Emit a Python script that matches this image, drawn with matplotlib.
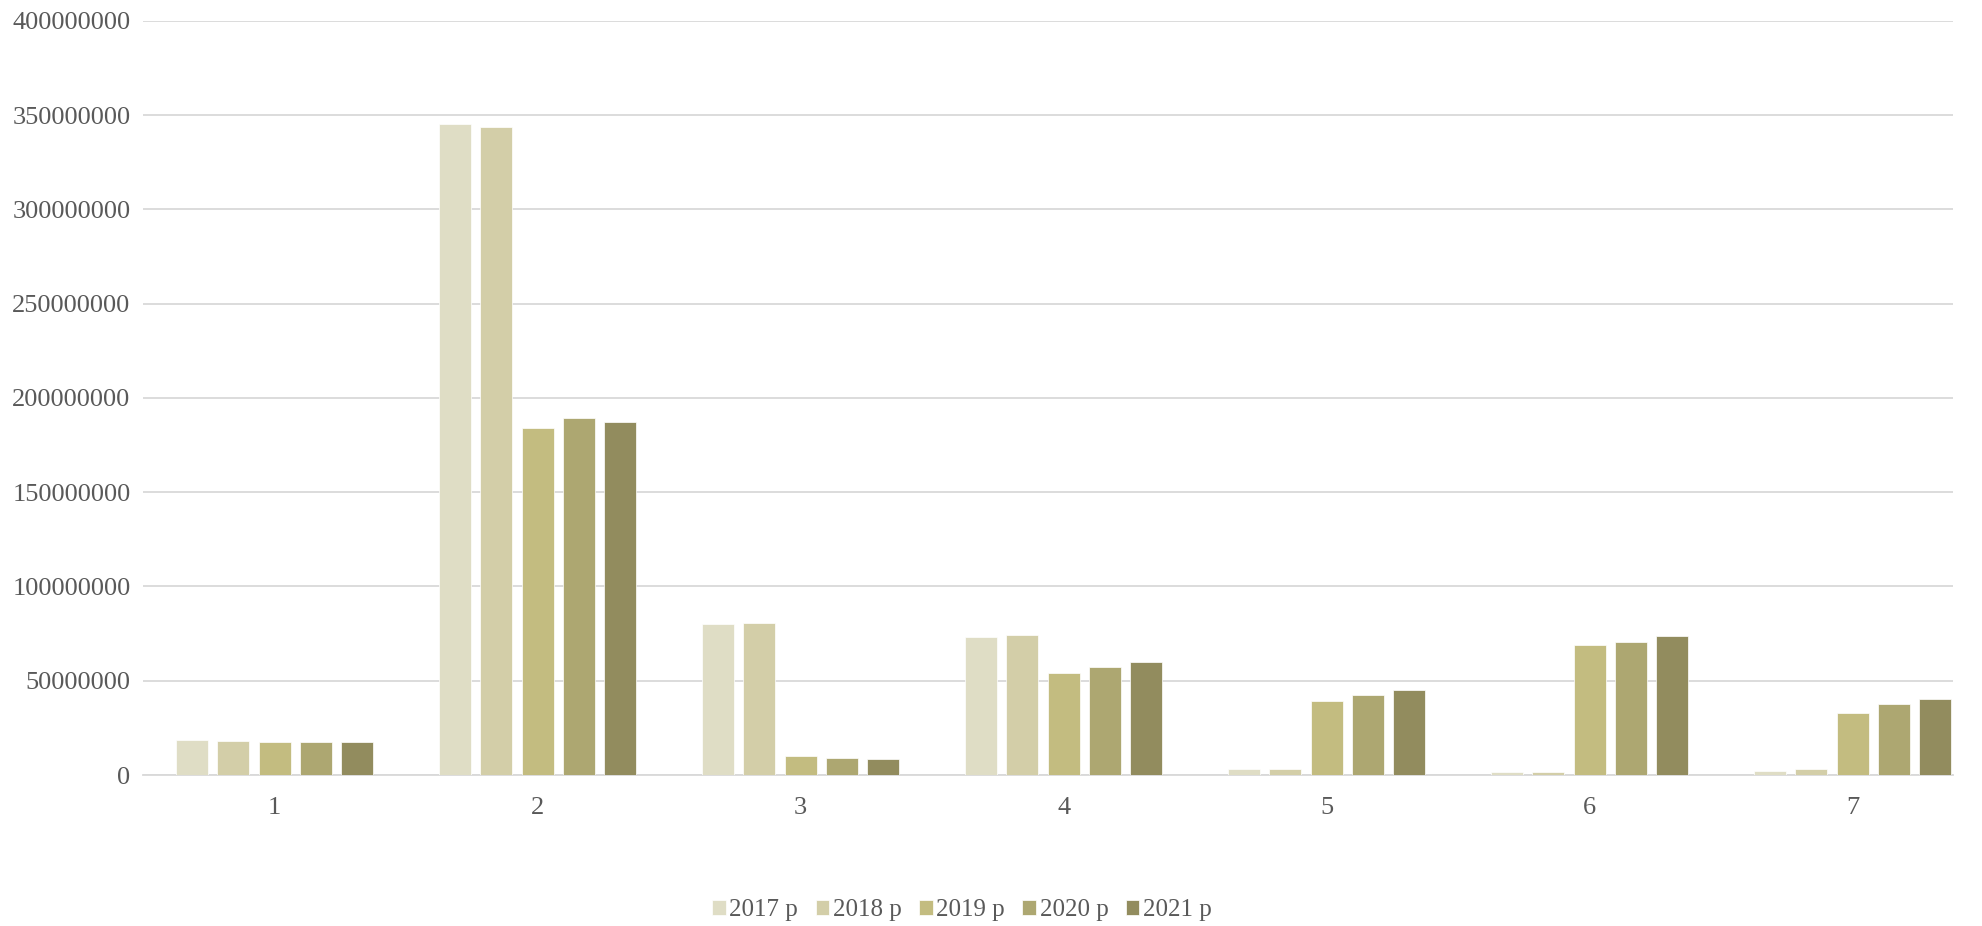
import matplotlib
matplotlib.use("Agg")
import matplotlib.pyplot as plt
import numpy as np

categories = ["1", "2", "3", "4", "5", "6", "7"]
series_names = ["2017 p", "2018 p", "2019 p", "2020 p", "2021 p"]
v2017 = [18.4e6, 345.2e6, 80.0e6, 73.3e6, 3.2e6, 1.4e6, 2.1e6]
v2018 = [18.2e6, 343.5e6, 80.9e6, 74.2e6, 3.2e6, 1.7e6, 3.2e6]
v2019 = [17.3e6, 183.9e6, 9.9e6, 54.2e6, 39.5e6, 68.9e6, 32.7e6]
v2020 = [17.3e6, 189.4e6, 9.0e6, 57.3e6, 42.7e6, 70.7e6, 37.7e6]
v2021 = [17.5e6, 187.1e6, 8.5e6, 60.0e6, 45.2e6, 73.9e6, 40.2e6]
colors = ["#DFDDC5", "#D3CEA8", "#C3BC80", "#ADA771", "#928C5E"]

plt.rcParams['font.family'] = ['Liberation Serif', 'DejaVu Serif']

fig = plt.figure(figsize=(19.82, 9.26), dpi=100)
ax = fig.add_axes([0.0722, 0.163, 0.913, 0.8146])

x = np.arange(len(categories))
step = 0.157
width = 0.122
all_vals = [v2017, v2018, v2019, v2020, v2021]
for i, (vals, name, c) in enumerate(zip(all_vals, series_names, colors)):
    ax.bar(x + (i - 2) * step, vals, width=width, color=c, label=name,
           edgecolor='white', linewidth=0.5, zorder=3)

ax.set_xlim(-0.5, 6.38)
ax.set_ylim(0, 400e6)
ax.set_yticks(np.arange(0, 400e6 + 1, 50e6))
ax.set_yticklabels([f"{int(v)}" for v in np.arange(0, 400e6 + 1, 50e6)])
ax.set_xticks(x)
ax.set_xticklabels(categories)
ax.grid(axis='y', color='#D9D9D9', linewidth=1.3, zorder=0)
ax.set_axisbelow(True)
for s in ['top', 'right', 'left']:
    ax.spines[s].set_visible(False)
ax.spines['bottom'].set_color('#D9D9D9')
ax.spines['bottom'].set_linewidth(1.3)
ax.tick_params(axis='both', length=0, labelsize=19, labelcolor='#595959')
ax.tick_params(axis='y', pad=9)
ax.tick_params(axis='x', pad=16)

fig.legend(loc='center', bbox_to_anchor=(962 / 1982, 1 - 910 / 926), ncol=5,
           frameon=False, fontsize=18, labelcolor='#595959', handlelength=0.54,
           handleheight=0.54, handletextpad=0.15, columnspacing=0.7)

fig.savefig("out.png", dpi=100, facecolor='white')
